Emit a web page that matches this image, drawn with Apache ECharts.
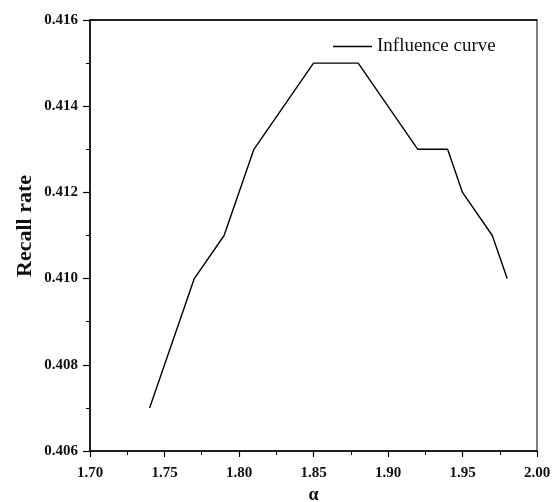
<!DOCTYPE html>
<html>
<head>
<meta charset="utf-8">
<script src="https://cdn.jsdelivr.net/npm/echarts@6/dist/echarts.min.js"></script>
<style>html,body{margin:0;padding:0;background:#fff;}#c{width:558px;height:502px;}</style>
</head>
<body>
<div id="c"></div>
<script>
var alphaValues = [1.74, 1.77, 1.79, 1.81, 1.85, 1.88, 1.92, 1.94, 1.95, 1.97, 1.98];
var recallValues = [0.407, 0.410, 0.411, 0.413, 0.415, 0.415, 0.413, 0.413, 0.412, 0.411, 0.410];
var seriesName = 'Influence curve';
var xTitle = 'α';
var yTitle = 'Recall rate';

var chart = echarts.init(document.getElementById('c'), null, {renderer: 'canvas'});
var font = '"Liberation Serif", "Times New Roman", serif';
chart.setOption({
  animation: false,
  backgroundColor: '#fff',
  grid: {left: 90, right: 21, top: 20, bottom: 51, show: true, borderColor: '#000', borderWidth: 1,
    containLabel: false, outerBoundsMode: 'none'},
  legend: {
    show: true, left: 333, top: 37, itemWidth: 39, itemHeight: 1.5, itemGap: 0, padding: 0,
    data: [{name: seriesName, icon: 'rect', itemStyle: {color: '#000', borderWidth: 0}}],
    textStyle: {fontFamily: font, fontSize: 19, color: '#111'}
  },
  graphic: [{
    type: 'text', x: 25, y: 226, rotation: Math.PI / 2,
    style: {text: yTitle, fontFamily: font, fontSize: 22, fontWeight: 'bold', fill: '#111',
      align: 'center', verticalAlign: 'middle'}
  }],
  xAxis: [{
    type: 'value', min: 1.70, max: 2.00, interval: 0.05,
    name: xTitle, nameLocation: 'middle', nameGap: 28,
    nameTextStyle: {fontFamily: font, fontSize: 18, fontWeight: 'bold', color: '#111'},
    axisLine: {show: true, onZero: false, lineStyle: {color: '#000', width: 1.5}},
    axisTick: {show: true, inside: false, length: 6, lineStyle: {color: '#000', width: 1.2}},
    minorTick: {show: true, splitNumber: 2, length: 4, lineStyle: {color: '#000', width: 1}},
    splitLine: {show: false},
    axisLabel: {fontFamily: font, fontSize: 15, fontWeight: 'bold', color: '#111', margin: 15,
      formatter: function (v) { return v.toFixed(2); }}
  }, {
    type: 'value', position: 'top', min: 1.70, max: 2.00, interval: 0.05,
    axisLine: {show: true, onZero: false, lineStyle: {color: '#000', width: 1.5}},
    axisTick: {show: false}, axisLabel: {show: false}, splitLine: {show: false}
  }],
  yAxis: {
    type: 'value', min: 0.406, max: 0.416, interval: 0.002,
    axisLine: {show: true, onZero: false, lineStyle: {color: '#000', width: 1.5}},
    axisTick: {show: true, inside: false, length: 7, lineStyle: {color: '#000', width: 1.2}},
    minorTick: {show: true, splitNumber: 2, length: 4, lineStyle: {color: '#000', width: 1}},
    splitLine: {show: false},
    axisLabel: {fontFamily: font, fontSize: 15, fontWeight: 'bold', color: '#111', margin: 12,
      formatter: function (v) { return v.toFixed(3); }}
  },
  series: [{
    name: seriesName, type: 'line', showSymbol: false, symbol: 'none',
    data: alphaValues.map(function (a, i) { return [a, recallValues[i]]; }),
    lineStyle: {color: '#000', width: 1.4}, itemStyle: {color: '#000'}
  }]
});
</script>
</body>
</html>
